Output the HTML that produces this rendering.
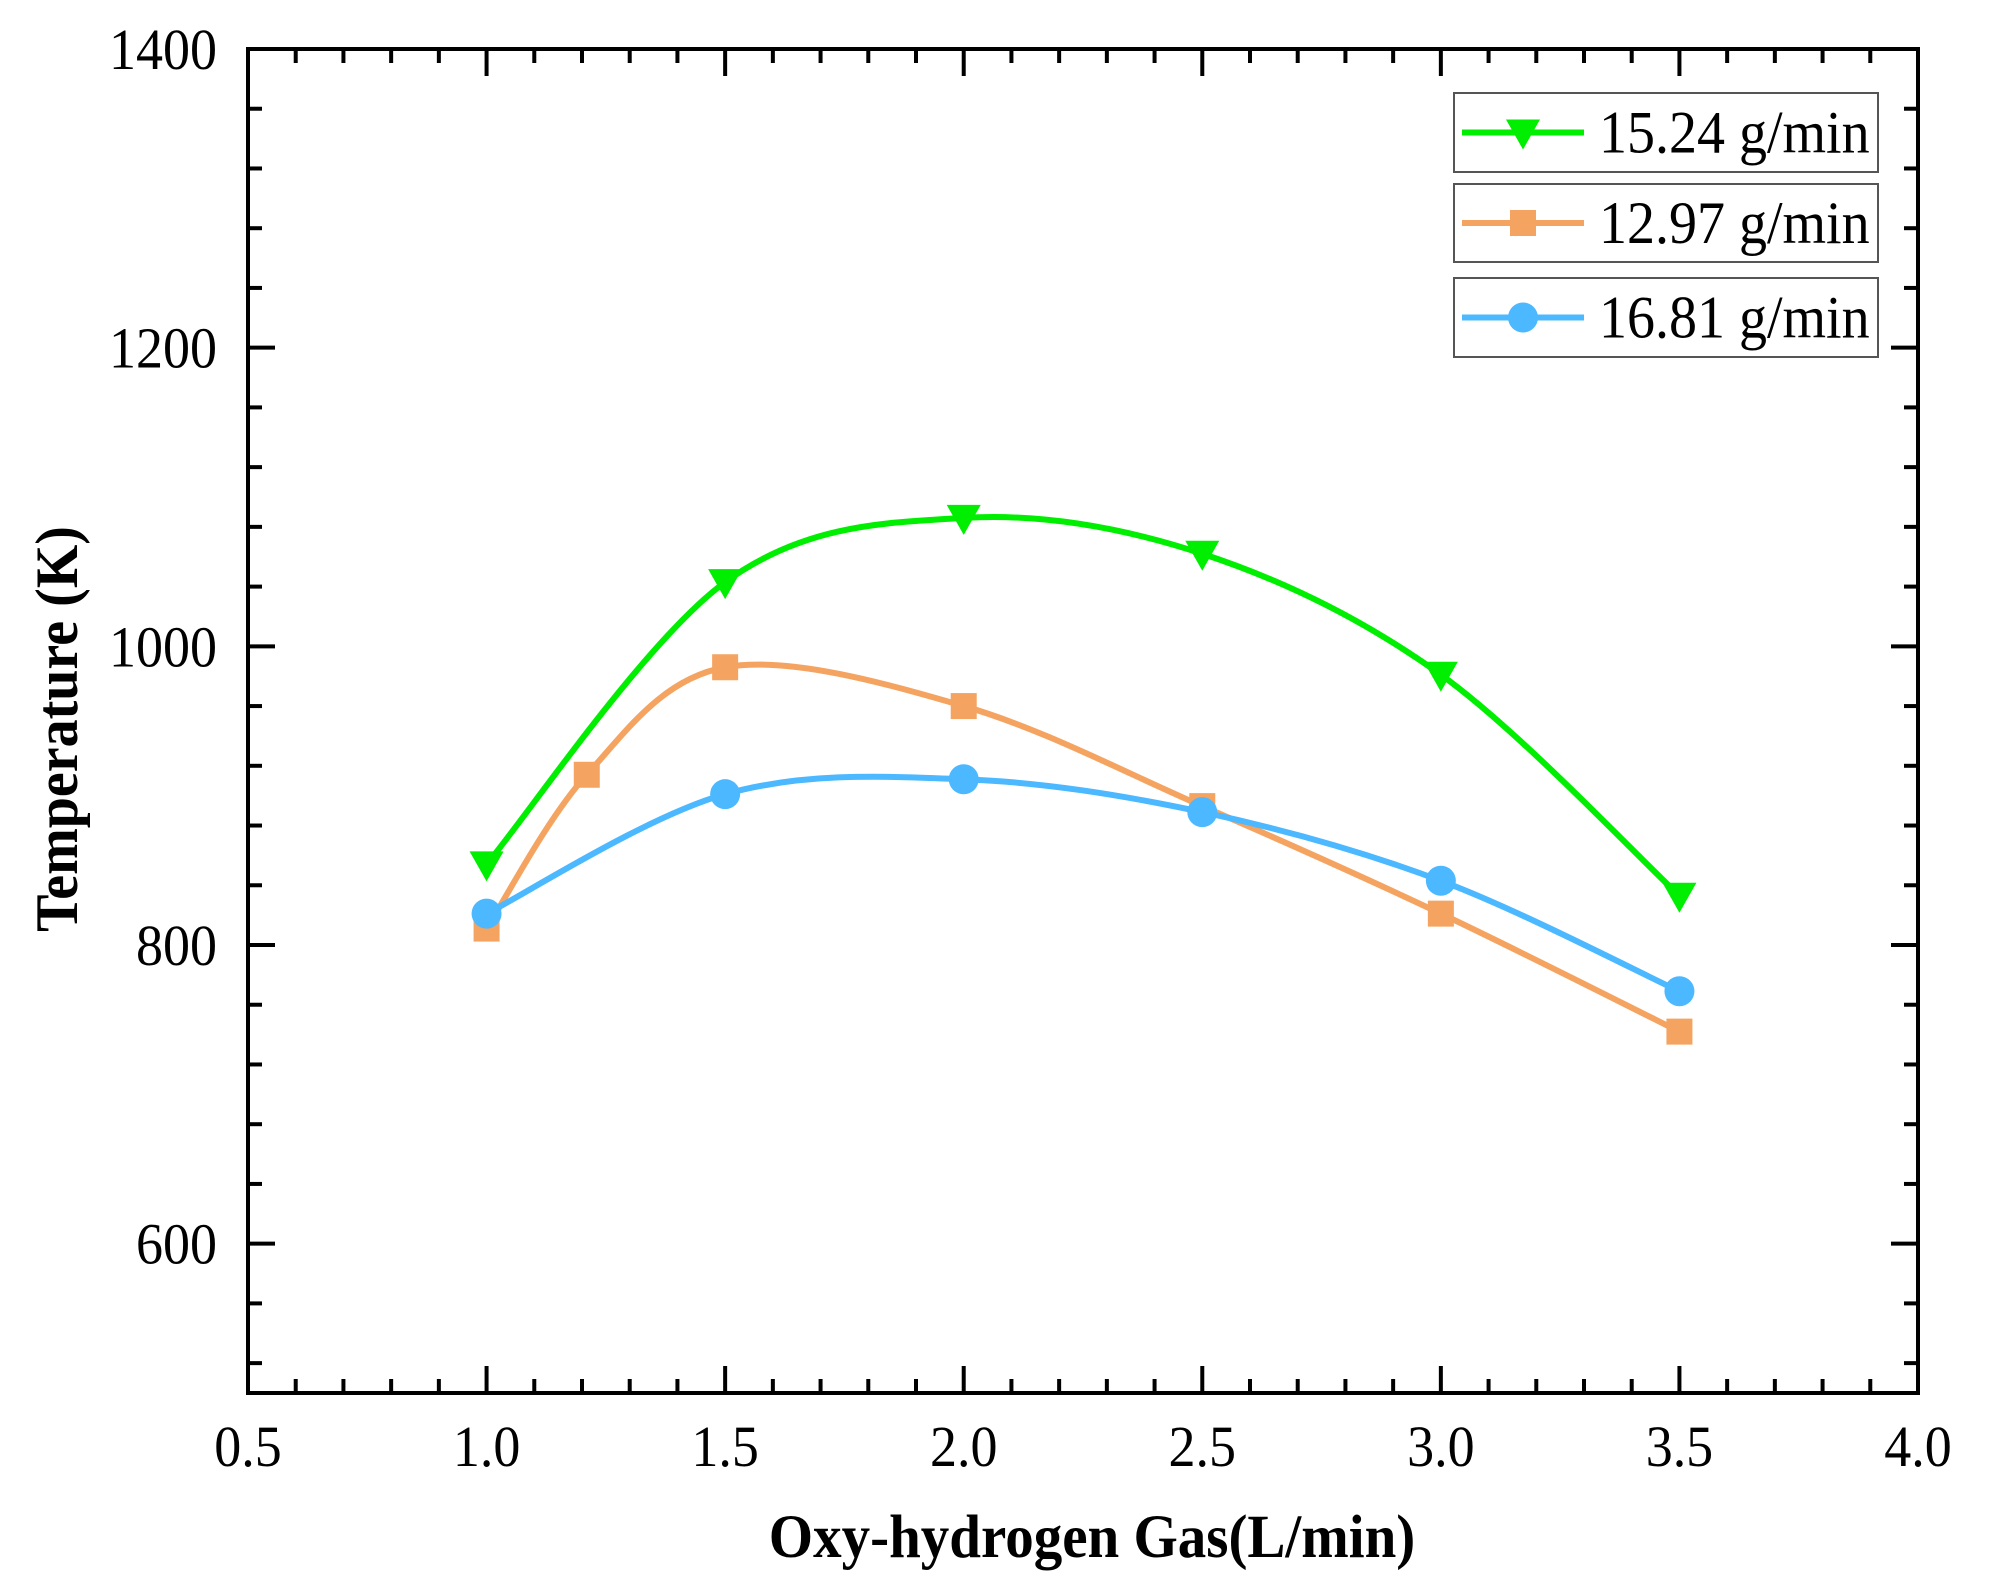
<!DOCTYPE html>
<html><head><meta charset="utf-8"><style>
html,body{margin:0;padding:0;background:#fff;}
svg{display:block;}
text{font-family:"Liberation Serif",serif;fill:#000;}
</style></head><body>
<svg id="s" width="1990" height="1579" viewBox="0 0 1990 1579" xmlns="http://www.w3.org/2000/svg">
<rect width="1990" height="1579" fill="#fff"/>
<g id="g"></g>
<text x="0" y="0" transform="translate(57 729) rotate(-90) scale(1,1.08)" text-anchor="middle" dominant-baseline="central" font-size="56" font-weight="bold">Temperature (K)</text>
<text x="0" y="0" transform="translate(1092 1557) scale(1,1.08)" text-anchor="middle" font-size="57" font-weight="bold">Oxy-hydrogen Gas(L/min)</text>
</svg>
<script>
const NS="http://www.w3.org/2000/svg",g=document.getElementById('g');
const L=248,R=1918,T=49,B=1393;
const X=v=>L+(v-0.5)*(R-L)/3.5, Y=v=>B-(v-500)*(B-T)/900;
function el(t,a,txt){const e=document.createElementNS(NS,t);for(const k in a)e.setAttribute(k,a[k]);if(txt!==undefined)e.textContent=txt;g.appendChild(e);return e;}
for(let i=0;i<=35;i++){const v=0.5+i*0.1,x=X(v),maj=i%5==0,len=maj?27:14;
 el('line',{x1:x,y1:B,x2:x,y2:B-len,stroke:'#000','stroke-width':4});
 el('line',{x1:x,y1:T,x2:x,y2:T+len,stroke:'#000','stroke-width':4});
 if(maj)el('text',{transform:`translate(${x} 1466) scale(1,1.08)`,'text-anchor':'middle','font-size':54},v.toFixed(1));}
for(let v=520;v<=1400;v+=40){const y=Y(v),maj=(v%200==0),len=maj?27:14;
 el('line',{x1:L,y1:y,x2:L+len,y2:y,stroke:'#000','stroke-width':4});
 el('line',{x1:R,y1:y,x2:R-len,y2:y,stroke:'#000','stroke-width':4});
 if(maj)el('text',{transform:`translate(217 ${y+20}) scale(1,1.08)`,'text-anchor':'end','font-size':54},v);}
el('rect',{x:L,y:T,width:R-L,height:B-T,fill:'none',stroke:'#000','stroke-width':4});
function path(pts){const p=pts.map(a=>[X(a[0]),Y(a[1])]);let d='M'+p[0];
 for(let i=0;i<p.length-1;i++){const p0=p[i-1]||p[i],p1=p[i],p2=p[i+1],p3=p[i+2]||p2;
  const c1=[p1[0]+(p2[0]-p0[0])/6,p1[1]+(p2[1]-p0[1])/6],c2=[p2[0]-(p3[0]-p1[0])/6,p2[1]-(p3[1]-p1[1])/6];
  d+='C'+c1+' '+c2+' '+p2;}return d;}
function marker(type,x,y,c){
 if(type=='tri')el('polygon',{points:`${x-17},${y-13} ${x+17},${y-13} ${x},${y+17}`,fill:c});
 else if(type=='sq')el('rect',{x:x-13,y:y-13,width:26,height:26,fill:c});
 else el('circle',{cx:x,cy:y,r:15,fill:c});}
const S=[
 {c:'#00ee00',m:'tri',d:[[1,854],[1.5,1043],[2,1086],[2.5,1062],[3,981],[3.5,833]]},
 {c:'#f4a460',m:'sq',d:[[1,811],[1.21,914],[1.5,986],[2,960],[2.5,893],[3,821],[3.5,742]]},
 {c:'#4cb8ff',m:'circ',d:[[1,821],[1.5,901],[2,911],[2.5,889],[3,843],[3.5,769]]}];
S.forEach(s=>{el('path',{d:path(s.d),fill:'none',stroke:s.c,'stroke-width':6});});
S.forEach(s=>{s.d.forEach(p=>marker(s.m,X(p[0]),Y(p[1]),s.c));});
const lg=[[93,172,0,'15.24 g/min'],[184,262,1,'12.97 g/min'],[278,357,2,'16.81 g/min']];
lg.forEach(b=>{const s=S[b[2]],cy=(b[0]+b[1])/2;
 el('rect',{x:1454,y:b[0],width:424,height:b[1]-b[0],fill:'#fff',stroke:'#555','stroke-width':2});
 el('line',{x1:1462,y1:cy,x2:1584,y2:cy,stroke:s.c,'stroke-width':6});
 marker(s.m,1523,cy,s.c);
 el('text',{transform:`translate(1599 ${cy+20}) scale(1,1.08)`,'font-size':56},b[3]);});
</script>
</body></html>
